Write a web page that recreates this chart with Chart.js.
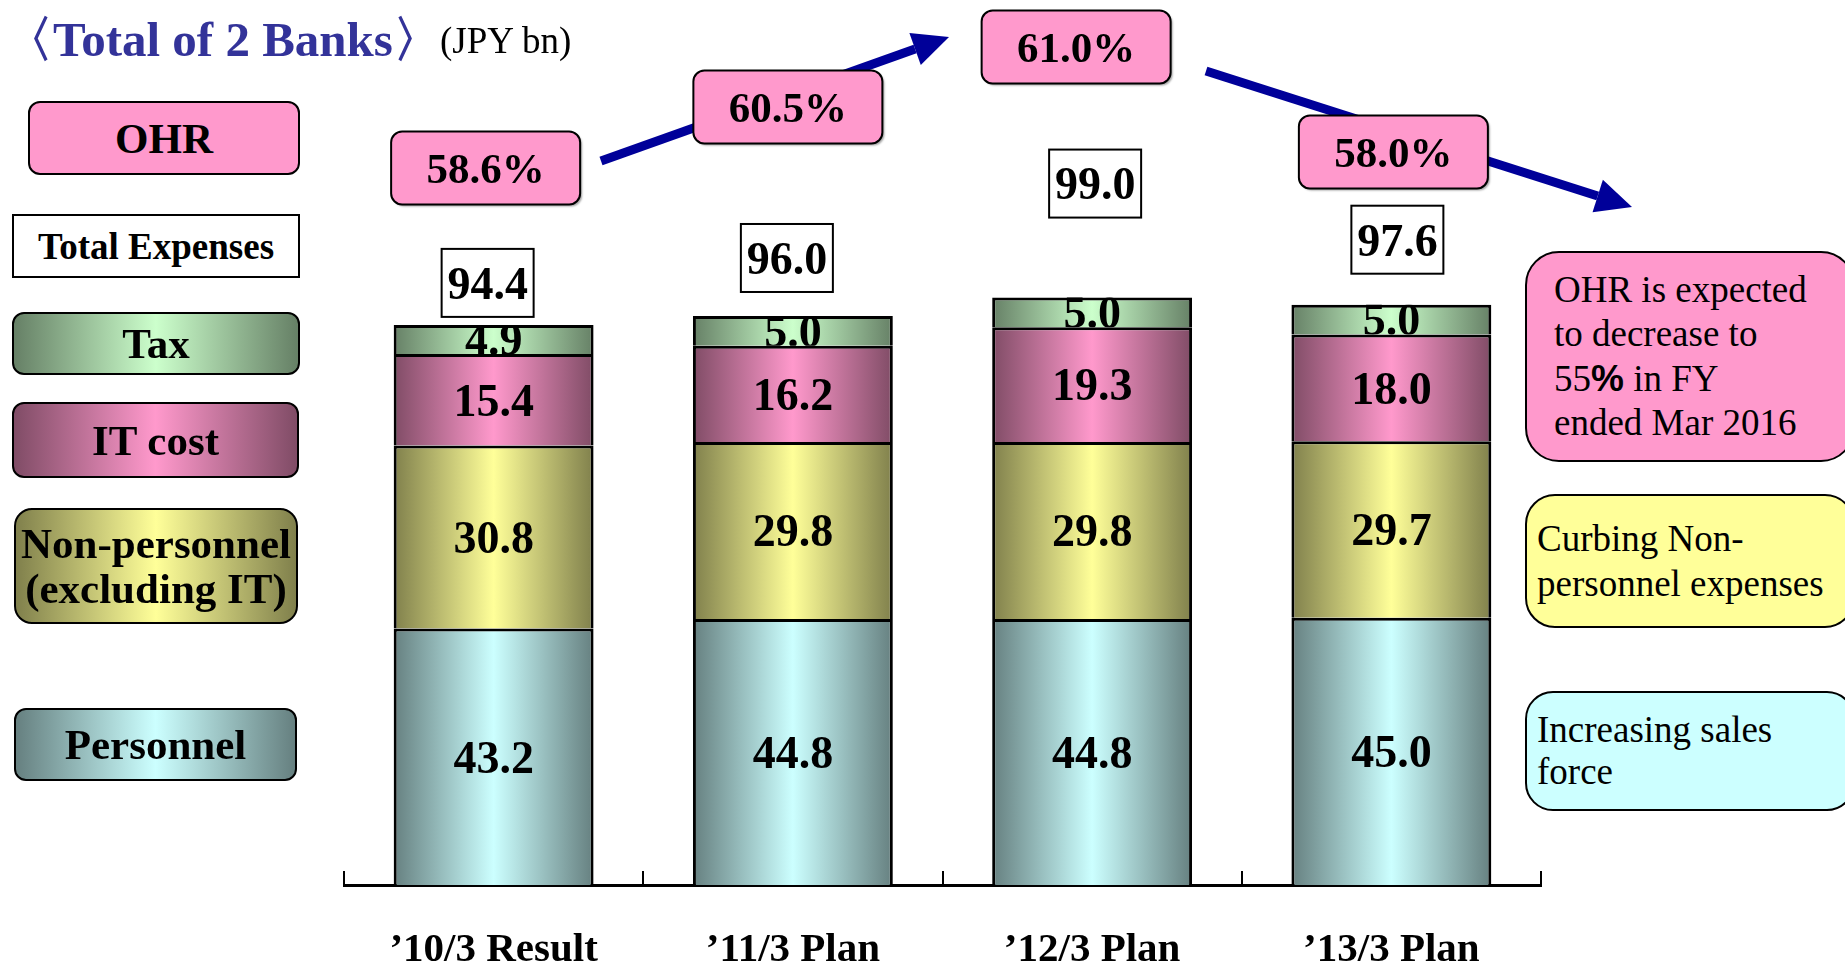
<!DOCTYPE html>
<html lang="en">
<head>
<meta charset="UTF-8">
<title>Total of 2 Banks - Expenses and OHR</title>
<script src="https://cdn.jsdelivr.net/npm/chart.js"></script>
<style>
  body { margin: 0; background: #fff; font-family: "Liberation Serif", serif; }
  #wrap { position: relative; width: 1845px; height: 965px; overflow: hidden; }
  #chart { position: absolute; left: 0; top: 0; }
  .title { position: absolute; left: 4px; top: 16px; line-height: 48px; font-size: 49px; font-weight: bold; color: #333399; white-space: nowrap; }
  .unit { position: absolute; left: 440px; top: 22px; line-height: 38px; font-size: 37px; color: #000; white-space: nowrap; }
  .key { position: absolute; box-sizing: border-box; border: 2px solid #000; border-radius: 12px;
         display: flex; align-items: center; justify-content: center; text-align: center;
         font-weight: bold; font-size: 43px; line-height: 45px; color: #000; }
  .note { position: absolute; box-sizing: border-box; border: 2px solid #000; left: 1525px; width: 330px;
          display: flex; flex-direction: column; justify-content: center;
          font-size: 37px; color: #000; }
</style>
</head>
<body>
<div id="wrap">
  <canvas id="chart" width="1845" height="965"></canvas>

  <div class="title">〈Total of 2 Banks〉</div>
  <div class="unit">(JPY bn)</div>

  <!-- left hand key -->
  <div class="key" style="left:28px;top:101px;width:272px;height:74px;background:#ff99cc;">OHR</div>
  <div class="key" style="left:12px;top:214px;width:288px;height:64px;background:#fff;border-radius:0;font-size:37px;">Total Expenses</div>
  <div class="key" style="left:12px;top:312px;width:288px;height:63px;background:linear-gradient(90deg,#668066,#ccffcc 50%,#668066);">Tax</div>
  <div class="key" style="left:12px;top:402px;width:287px;height:76px;background:linear-gradient(90deg,#804c66,#ff99cc 50%,#804c66);">IT cost</div>
  <div class="key" style="left:14px;top:508px;width:284px;height:116px;background:linear-gradient(90deg,#80804c,#ffff99 50%,#80804c);border-radius:18px;">Non-personnel<br>(excluding IT)</div>
  <div class="key" style="left:14px;top:708px;width:283px;height:73px;background:linear-gradient(90deg,#668080,#ccffff 50%,#668080);">Personnel</div>

  <!-- right hand notes -->
  <div class="note" style="top:251px;height:211px;background:#ff99cc;border-radius:34px;padding-left:27px;line-height:44.5px;">
    <div>OHR is expected</div>
    <div>to decrease to</div>
    <div>55<b style="font-family:'Liberation Sans',sans-serif;">%</b> in FY</div>
    <div>ended Mar 2016</div>
  </div>
  <div class="note" style="top:494px;height:134px;background:#ffff99;border-radius:30px;padding-left:10px;line-height:45px;">
    <div>Curbing Non-</div>
    <div>personnel expenses</div>
  </div>
  <div class="note" style="top:691px;height:120px;background:#ccffff;border-radius:28px;padding-left:10px;line-height:42px;">
    <div>Increasing sales</div>
    <div>force</div>
  </div>
</div>

<script>
// data (JPY bn)
const categories = ['\u201910/3 Result', '\u201911/3 Plan', '\u201912/3 Plan', '\u201913/3 Plan'];
const personnel = [43.2, 44.8, 44.8, 45.0];
const nonPersonnel = [30.8, 29.8, 29.8, 29.7];
const itCost = [15.4, 16.2, 19.3, 18.0];
const tax = [4.9, 5.0, 5.0, 5.0];
const totalExpenses = [94.4, 96.0, 99.0, 97.6];
const ohr = [58.6, 60.5, 61.0, 58.0];

// hand placed call-outs (pixels)
const totalGap = [8, 24, 80, 31];       // space between total box and bar top
const totalShift = [-6, -6, 3, 6];
const ohrBoxY = [168, 107, 47, 152];    // centre of OHR boxes
const ohrShift = [-8, -5, -16, 2];
const trendArrows = [[601, 161, 949, 37], [1206, 71, 1632, 207]];

const FONT = '"Liberation Serif", serif';
const BAR_PCT = 0.668;

// dark edge -> light centre -> dark edge, one gradient per bar
function shade(dark, light) {
    return function (ctx) {
        const chart = ctx.chart;
        const xs = chart.scales.x;
        if (ctx.type !== 'data' || !xs || !xs.width) return light;
        const cx = xs.getPixelForValue(ctx.dataIndex);
        const half = xs.width / categories.length * BAR_PCT / 2;
        const g = chart.ctx.createLinearGradient(cx - half, 0, cx + half, 0);
        g.addColorStop(0, dark);
        g.addColorStop(0.5, light);
        g.addColorStop(1, dark);
        return g;
    };
}

function segment(label, values, dark, light) {
    return {
        label: label,
        data: values,
        backgroundColor: shade(dark, light),
        borderColor: '#000',
        borderWidth: 3,
        borderSkipped: 'bottom',
        barPercentage: BAR_PCT,
        categoryPercentage: 1
    };
}

function roundRect(c, x, y, w, h, r) {
    c.beginPath();
    c.moveTo(x + r, y);
    c.arcTo(x + w, y, x + w, y + h, r);
    c.arcTo(x + w, y + h, x, y + h, r);
    c.arcTo(x, y + h, x, y, r);
    c.arcTo(x, y, x + w, y, r);
    c.closePath();
}

function arrow(c, x1, y1, x2, y2) {
    const ang = Math.atan2(y2 - y1, x2 - x1);
    const head = 36, half = 17;
    const bx = x2 - head * Math.cos(ang), by = y2 - head * Math.sin(ang);
    c.strokeStyle = '#000099';
    c.fillStyle = '#000099';
    c.lineWidth = 9;
    c.beginPath();
    c.moveTo(x1, y1);
    c.lineTo(bx, by);
    c.stroke();
    c.beginPath();
    c.moveTo(x2, y2);
    c.lineTo(bx + half * Math.sin(ang), by - half * Math.cos(ang));
    c.lineTo(bx - half * Math.sin(ang), by + half * Math.cos(ang));
    c.closePath();
    c.fill();
}

const callouts = {
    id: 'callouts',
    afterDatasetsDraw(chart) {
        const c = chart.ctx;
        const xs = chart.scales.x;

        // values inside segments, clipped to their segment
        chart.data.datasets.forEach((ds, di) => {
            chart.getDatasetMeta(di).data.forEach((bar, i) => {
                const p = bar.getProps(['x', 'y', 'base', 'width'], true);
                c.save();
                c.beginPath();
                c.rect(p.x - p.width / 2, p.y, p.width, p.base - p.y);
                c.clip();
                c.font = 'bold 46px ' + FONT;
                c.fillStyle = '#000';
                c.textAlign = 'center';
                c.textBaseline = 'middle';
                c.fillText(ds.data[i].toFixed(1), p.x, (p.y + p.base) / 2 + 4);
                c.restore();
            });
        });

        // total boxes
        const topMeta = chart.getDatasetMeta(chart.data.datasets.length - 1);
        totalExpenses.forEach((v, i) => {
            const top = topMeta.data[i].y;
            const cx = xs.getPixelForValue(i) + totalShift[i];
            const w = 92, h = 68;
            const y = top - totalGap[i] - h;
            c.save();
            c.fillStyle = '#fff';
            c.fillRect(cx - w / 2, y, w, h);
            c.strokeStyle = '#000';
            c.lineWidth = 2;
            c.strokeRect(cx - w / 2, y, w, h);
            c.font = 'bold 46px ' + FONT;
            c.fillStyle = '#000';
            c.textAlign = 'center';
            c.textBaseline = 'middle';
            c.fillText(v.toFixed(1), cx, y + h / 2 + 4);
            c.restore();
        });

        // trend arrows behind OHR boxes
        c.save();
        trendArrows.forEach(a => arrow(c, a[0], a[1], a[2], a[3]));
        c.restore();

        // OHR boxes
        ohr.forEach((v, i) => {
            const cx = xs.getPixelForValue(i) + ohrShift[i];
            const w = 189, h = 73;
            c.save();
            roundRect(c, cx - w / 2, ohrBoxY[i] - h / 2, w, h, 11);
            c.shadowColor = 'rgba(0,0,0,0.35)';
            c.shadowOffsetX = 2;
            c.shadowOffsetY = 2;
            c.shadowBlur = 2;
            c.fillStyle = '#ff99cc';
            c.fill();
            c.shadowColor = 'transparent';
            c.strokeStyle = '#000';
            c.lineWidth = 2;
            c.stroke();
            c.font = 'bold 43px ' + FONT;
            c.fillStyle = '#000';
            c.textAlign = 'center';
            c.textBaseline = 'middle';
            c.fillText(v.toFixed(1) + '%', cx, ohrBoxY[i] + 4);
            c.restore();
        });
    }
};

new Chart(document.getElementById('chart'), {
    type: 'bar',
    data: {
        labels: categories,
        datasets: [
            segment('Personnel', personnel, '#668080', '#ccffff'),
            segment('Non-personnel (excluding IT)', nonPersonnel, '#80804c', '#ffff99'),
            segment('IT cost', itCost, '#804c66', '#ff99cc'),
            segment('Tax', tax, '#668066', '#ccffcc')
        ]
    },
    options: {
        responsive: false,
        animation: false,
        layout: { padding: { left: 344, right: 304, top: 0, bottom: 0 } },
        plugins: {
            legend: { display: false },
            tooltip: { enabled: false }
        },
        scales: {
            x: {
                stacked: true,
                z: 1,
                grid: { drawOnChartArea: false, drawTicks: true, tickLength: -14, color: '#000', lineWidth: 2 },
                border: { display: true, color: '#000', width: 3 },
                ticks: { color: '#000', padding: 55, font: { family: FONT, size: 41, weight: 'bold' } },
                afterFit(scale) { scale.height = 80; }
            },
            y: {
                stacked: true,
                display: false,
                min: 0,
                max: 149
            }
        }
    },
    plugins: [callouts]
});
</script>
</body>
</html>
